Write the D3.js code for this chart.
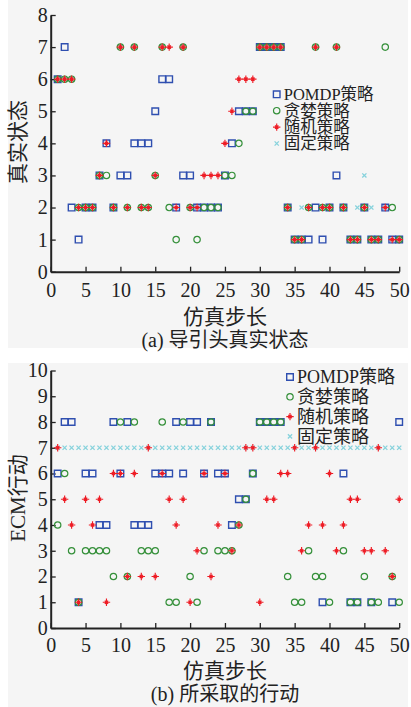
<!DOCTYPE html>
<html>
<head>
<meta charset="utf-8">
<script src="https://cdn.jsdelivr.net/npm/d3@7"></script>
<style>
  html, body { margin: 0; padding: 0; background: #ffffff; }
  svg { display: block; }
  text { font-family: "Liberation Serif", "Times New Roman", "Noto Sans CJK SC", serif; fill: #222; }
</style>
</head>
<body>
<svg id="fig" width="411" height="707"></svg>
<script>
// ---- data -------------------------------------------------------------
const seriesNames = ["POMDP策略", "贪婪策略", "随机策略", "固定策略"];
const stepTicks = [0, 5, 10, 15, 20, 25, 30, 35, 40, 45, 50];
const stateTicks = [0, 1, 2, 3, 4, 5, 6, 7, 8];
const actionTicks = [0, 1, 2, 3, 4, 5, 6, 7, 8, 9, 10];

// (a) seeker true state under each policy, [step, state]
const statePomdp = [[1,6],[2,7],[3,2],[4,1],[5,2],[6,2],[7,3],[8,4],[9,2],[10,3],[11,3],[12,4],[13,4],[14,4],[15,5],[16,6],[17,6],[18,2],[19,3],[20,3],[21,2],[22,2],[23,2],[24,2],[25,3],[26,4],[27,5],[28,5],[29,5],[30,7],[31,7],[32,7],[33,7],[34,2],[35,1],[36,1],[37,1],[38,2],[39,1],[40,2],[41,3],[42,2],[43,1],[44,1],[45,2],[46,1],[47,1],[48,2],[49,1],[50,1]];
const stateGreedy = [[1,6],[2,6],[3,6],[4,2],[5,2],[6,2],[7,3],[8,3],[9,2],[10,7],[11,2],[12,7],[13,2],[14,2],[15,3],[16,7],[17,2],[18,1],[19,7],[20,2],[21,1],[22,2],[23,2],[24,2],[25,3],[26,3],[27,4],[28,5],[29,5],[30,7],[31,7],[32,7],[33,7],[34,2],[35,1],[36,1],[37,2],[38,7],[39,2],[40,2],[41,7],[42,2],[43,1],[44,1],[45,2],[46,1],[47,1],[48,7],[49,2],[50,1]];
const stateRandom = [[1,6],[2,6],[3,6],[4,2],[5,2],[6,2],[7,3],[8,4],[9,2],[10,7],[11,2],[12,7],[13,2],[14,2],[15,3],[16,7],[17,7],[18,2],[19,7],[20,2],[21,2],[22,3],[23,3],[24,3],[25,4],[26,5],[27,6],[28,6],[29,6],[30,7],[31,7],[32,7],[33,7],[34,2],[35,1],[36,1],[37,2],[38,7],[39,2],[40,2],[41,7],[42,2],[43,1],[44,1],[45,2],[46,1],[47,1],[48,2],[49,1],[50,1]];
const stateFixed = [[1,6],[2,6],[3,6],[4,2],[5,2],[6,2],[7,3],[9,2],[10,7],[11,2],[12,7],[13,2],[14,2],[15,3],[16,7],[19,7],[20,2],[21,2],[30,7],[31,7],[32,7],[33,7],[34,2],[35,1],[36,2],[37,2],[38,7],[39,2],[40,2],[41,7],[42,2],[43,1],[44,2],[45,3],[46,2],[47,1],[48,2],[49,1],[50,1]];

// (b) ECM action taken under each policy, [step, action]
const actionPomdp = [[1,6],[2,8],[3,8],[4,1],[5,6],[6,6],[7,4],[8,4],[9,8],[10,6],[11,8],[12,4],[13,4],[14,4],[15,6],[16,6],[17,6],[18,8],[19,6],[20,8],[21,8],[22,6],[23,8],[24,6],[25,6],[26,4],[27,5],[28,5],[29,6],[30,8],[31,8],[32,8],[33,8],[39,1],[42,6],[43,1],[44,1],[46,1],[49,1],[50,8]];
const actionGreedy = [[1,4],[2,6],[3,3],[4,1],[5,3],[6,3],[7,3],[8,3],[9,2],[10,8],[11,2],[12,8],[13,3],[14,3],[15,3],[16,8],[17,1],[18,1],[19,8],[20,2],[21,1],[22,3],[23,8],[24,3],[25,3],[26,3],[27,4],[28,5],[29,6],[30,8],[31,8],[32,8],[33,8],[34,2],[35,1],[36,1],[37,3],[38,2],[39,2],[40,1],[42,3],[43,1],[44,1],[45,2],[46,1],[47,1],[49,2],[50,1]];
const actionRandom = [[1,7],[2,5],[3,4],[4,1],[5,5],[6,4],[7,5],[8,1],[9,6],[10,6],[11,2],[12,6],[13,2],[14,7],[15,2],[16,6],[17,5],[18,4],[19,5],[20,1],[21,3],[22,6],[23,2],[24,4],[25,6],[26,3],[27,4],[28,7],[29,7],[30,1],[31,5],[32,5],[33,6],[34,6],[35,7],[36,3],[37,4],[38,7],[39,4],[40,6],[41,3],[42,4],[43,5],[44,5],[45,3],[46,3],[47,7],[48,3],[49,2],[50,5]];
const actionFixed = [[1,7],[2,7],[3,7],[4,7],[5,7],[6,7],[7,7],[8,7],[9,7],[10,7],[11,7],[12,7],[13,7],[14,7],[15,7],[16,7],[17,7],[18,7],[19,7],[20,7],[21,7],[22,7],[23,7],[24,7],[25,7],[26,7],[27,7],[28,7],[29,7],[30,7],[31,7],[32,7],[33,7],[34,7],[35,7],[36,7],[37,7],[38,7],[39,7],[40,7],[41,7],[42,7],[43,7],[44,7],[45,7],[46,7],[47,7],[48,7],[49,7],[50,7]];

// ---- marker styles ----------------------------------------------------
const COLORS = { pomdp: "#2f4fb0", greedy: "#35903a", random: "#ee1c25", fixed: "#86d2dc" };

function squarePath(s) { return `M${-s},${-s}H${s}V${s}H${-s}Z`; }
function asteriskPath(r) {
  const d = r * 0.45;
  return `M${-r},0H${r}M0,${-r}V${r}M${-d},${-d}L${d},${d}M${-d},${d}L${d},${-d}`;
}
function crossPath(r) { return `M${-r},${-r}L${r},${r}M${-r},${r}L${r},${-r}`; }

const markerDefs = {
  pomdp:  { draw: g => g.append("path").attr("d", squarePath(3.3)).attr("fill", "none").attr("stroke", COLORS.pomdp).attr("stroke-width", 1.4) },
  greedy: { draw: g => g.append("circle").attr("r", 3.2).attr("fill", "none").attr("stroke", COLORS.greedy).attr("stroke-width", 1.2) },
  random: { draw: g => g.append("path").attr("d", asteriskPath(3.7)).attr("fill", "none").attr("stroke", COLORS.random).attr("stroke-width", 1.15) },
  fixed:  { draw: g => g.append("path").attr("d", crossPath(2.1)).attr("fill", "none").attr("stroke", COLORS.fixed).attr("stroke-width", 1.3) }
};
const legendOrder = ["pomdp", "greedy", "random", "fixed"];

const svg = d3.select("#fig");

// panel backgrounds
svg.append("rect").attr("x", 8).attr("y", 0).attr("width", 400).attr("height", 348).attr("fill", "#f5f5f5");
svg.append("rect").attr("x", 8).attr("y", 363).attr("width", 400).attr("height", 344).attr("fill", "#f5f5f5");

function drawPanel(p) {
  const x = d3.scaleLinear().domain([0, 50]).range([50.7, 399.2]);
  const y = d3.scaleLinear().domain([0, p.yMax]).range([p.yBottom, p.yTop]);

  const g = svg.append("g");

  // x axis, ticks pointing inward
  const gx = g.append("g")
    .attr("transform", `translate(0,${p.yBottom})`)
    .call(d3.axisBottom(x).tickValues(stepTicks).tickSizeInner(-5).tickSizeOuter(0).tickPadding(p.xPad));
  // y axis, ticks pointing inward
  const gy = g.append("g")
    .attr("transform", `translate(${x(0)},0)`)
    .call(d3.axisLeft(y).tickValues(p.yTicks).tickSizeInner(-5).tickSizeOuter(0).tickPadding(3));

  [gx, gy].forEach(a => {
    a.attr("font-family", null).attr("font-size", null);
    a.select(".domain").attr("stroke", "#222").attr("stroke-width", 2);
    a.selectAll(".tick line").attr("stroke", "#222").attr("stroke-width", 1.3);
    a.selectAll(".tick text").attr("font-size", 20).attr("fill", "#222")
      .style("font-family", '"Liberation Serif", "Times New Roman", serif');
  });

  // series, drawn back to front
  const order = ["fixed", "pomdp", "greedy", "random"];
  order.forEach(key => {
    const data = p.series[key];
    const pts = g.append("g").selectAll("g").data(data).join("g")
      .attr("transform", d => `translate(${x(d[0])},${y(d[1])})`);
    pts.each(function () { markerDefs[key].draw(d3.select(this)); });
  });

  // legend
  const lg = g.append("g");
  legendOrder.forEach((key, i) => {
    const row = lg.append("g").attr("transform", `translate(${p.legendX},${p.legendY + i * p.legendStep})`);
    markerDefs[key].draw(row);
    row.append("text").attr("x", 7).attr("y", 0).attr("dy", "0.36em")
      .attr("font-size", p.legendFont).text(seriesNames[i]);
  });

  // axis titles and caption
  g.append("text")
    .attr("transform", `translate(18,${p.yTitleCenter}) rotate(-90)`)
    .attr("text-anchor", "middle").attr("dy", "0.35em").attr("font-size", 21)
    .text(p.yTitle);
  g.append("text")
    .attr("x", 225).attr("y", p.xTitleY).attr("text-anchor", "middle").attr("dy", "0.35em")
    .attr("font-size", 21).text("仿真步长");
  g.append("text")
    .attr("x", 225).attr("y", p.captionY).attr("text-anchor", "middle").attr("dy", "0.35em")
    .attr("font-size", 20).text(p.caption);
}

drawPanel({
  yMax: 8, yTicks: stateTicks, yBottom: 271.7, yTop: 15, xPad: 11,
  series: { pomdp: statePomdp, greedy: stateGreedy, random: stateRandom, fixed: stateFixed },
  legendX: 276.7, legendY: 94.3, legendStep: 16.4, legendFont: 16.5,
  yTitle: "真实状态", yTitleCenter: 142,
  xTitleY: 317, captionY: 340,
  caption: "(a) 导引头真实状态"
});

drawPanel({
  yMax: 10, yTicks: actionTicks, yBottom: 628, yTop: 370.5, xPad: 9.5,
  series: { pomdp: actionPomdp, greedy: actionGreedy, random: actionRandom, fixed: actionFixed },
  legendX: 290, legendY: 377, legendStep: 19.8, legendFont: 18,
  yTitle: "ECM行动", yTitleCenter: 498,
  xTitleY: 671, captionY: 694,
  caption: "(b) 所采取的行动"
});
</script>
</body>
</html>
